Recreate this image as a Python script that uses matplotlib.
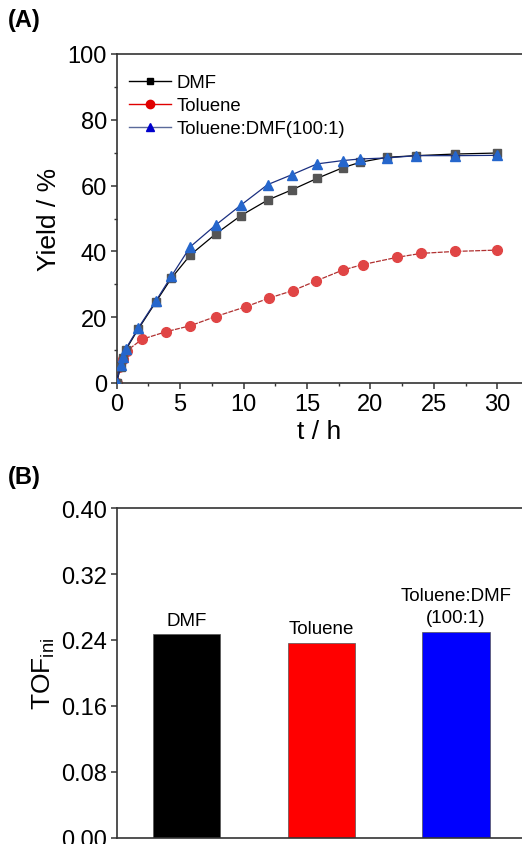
import matplotlib
matplotlib.use("Agg")
import matplotlib.pyplot as plt
from matplotlib.ticker import MultipleLocator, FormatStrFormatter
from matplotlib.lines import Line2D

plt.rcParams["font.family"] = ["Liberation Sans", "DejaVu Sans"]
plt.rcParams["mathtext.fontset"] = "custom"
plt.rcParams["mathtext.rm"] = "Liberation Sans"

# panel A: yield vs time
t_dmf = [0, 0.3, 0.5, 0.7, 1.7, 3.1, 4.3, 5.8, 7.8, 9.8, 11.9, 13.8, 15.8, 17.8, 19.2, 21.3, 23.6, 26.7, 30]
y_dmf = [0, 5.0, 7.6, 10.0, 16.4, 24.7, 31.8, 38.9, 45.3, 50.9, 55.6, 58.7, 62.2, 65.4, 67.1, 68.6, 69.1, 69.6, 69.9]
t_tol = [0, 0.2, 0.47, 0.8, 2.0, 3.9, 5.8, 7.8, 10.2, 12.0, 13.9, 15.7, 17.8, 19.4, 22.1, 24.0, 26.7, 30]
y_tol = [0, 4.8, 7.3, 9.8, 13.3, 15.6, 17.4, 20.2, 23.2, 25.8, 28.1, 31.0, 34.3, 36.0, 38.2, 39.4, 40.0, 40.4]
t_mix = t_dmf
y_mix = [0, 5.5, 8.0, 10.3, 16.7, 25.0, 32.4, 41.4, 48.0, 54.1, 60.3, 63.3, 66.6, 67.6, 68.1, 68.4, 69.1, 69.1, 69.2]
legend_labels = ["DMF", "Toluene", "Toluene:DMF(100:1)"]

# panel B: initial TOF
solvents = ["DMF", "Toluene", "Toluene:DMF\n(100:1)"]
tof = [0.2467, 0.2366, 0.2497]
bar_colors = ["#000000", "#ff0000", "#0000ff"]

W, H = 522, 845
fig = plt.figure(figsize=(W / 100, H / 100), dpi=100)

def style(ax):
    ax.spines["right"].set_visible(False)
    for s in ax.spines.values():
        s.set_color("#333333")
        s.set_linewidth(1.2)
    ax.tick_params(which="both", direction="out", color="#333333", labelsize=17, pad=3)
    ax.tick_params(which="major", length=4, width=1.1)
    ax.tick_params(which="minor", length=2.5, width=1.0)

# --- (A) ---
axA = fig.add_axes([116.7 / W, 1 - 384 / H, (W - 116.7) / W, (384 - 55) / H])
axA.plot(t_dmf, y_dmf, color="black", lw=0.9, marker="s", ms=6,
         mfc="#555555", mec="#555555", zorder=3)
axA.plot(t_tol, y_tol, color="#b03030", lw=0.9, ls=(0, (4, 1)), marker="o", ms=7,
         mfc="#e04545", mec="#e04545", zorder=2)
axA.plot(t_mix, y_mix, color="#1a2f80", lw=0.9, marker="^", ms=7,
         mfc="#2566cc", mec="#2566cc", zorder=4)
axA.set_xlim(0, 31.95)
axA.set_ylim(0, 100)
axA.xaxis.set_major_locator(MultipleLocator(5))
axA.xaxis.set_minor_locator(MultipleLocator(2.5))
axA.yaxis.set_major_locator(MultipleLocator(20))
axA.yaxis.set_minor_locator(MultipleLocator(10))
style(axA)
axA.set_xlabel("t / h", fontsize=19, labelpad=3)
axA.set_ylabel("Yield / %", fontsize=19, labelpad=5)

handles = [
    Line2D([], [], color="black", lw=1, marker="s", ms=5, mfc="black", mec="black"),
    Line2D([], [], color="#e00000", lw=1, marker="o", ms=6, mfc="#e00000", mec="#e00000"),
    Line2D([], [], color="#5a6a9a", lw=1, marker="^", ms=6, mfc="#0000cc", mec="#0000cc"),
]
axA.legend(handles, legend_labels, loc="upper left",
           bbox_to_anchor=(0.0, 0.975), frameon=False, fontsize=13.3,
           handlelength=2.3, handletextpad=0.3, labelspacing=0.32,
           borderaxespad=0.25, borderpad=0.4)

fig.text(8 / W, 1 - 21 / H, "(A)", fontsize=17, fontweight="bold", va="center", ha="left")

# --- (B) ---
axB = fig.add_axes([116.7 / W, 1 - 839 / H, (W - 116.7) / W, (839 - 509) / H])
x = range(len(solvents))
axB.bar(x, tof, width=0.5, color=bar_colors, edgecolor="#555555", linewidth=0.5)
for xi, v, lab in zip(x, tof, solvents):
    axB.annotate(lab, (xi, v), xytext=(0, 4), textcoords="offset points",
                 ha="center", va="bottom", fontsize=13.5, linespacing=1.4)
axB.set_xlim(-0.52, 2.49)
axB.set_ylim(0, 0.40)
axB.yaxis.set_major_locator(MultipleLocator(0.08))
axB.yaxis.set_major_formatter(FormatStrFormatter("%.2f"))
axB.set_xticks([])
style(axB)
axB.set_ylabel(r"TOF$_{\rm ini}$", fontsize=19, labelpad=3)

fig.text(8 / W, 1 - 478 / H, "(B)", fontsize=17, fontweight="bold", va="center", ha="left")

fig.savefig("out.png", dpi=100)
